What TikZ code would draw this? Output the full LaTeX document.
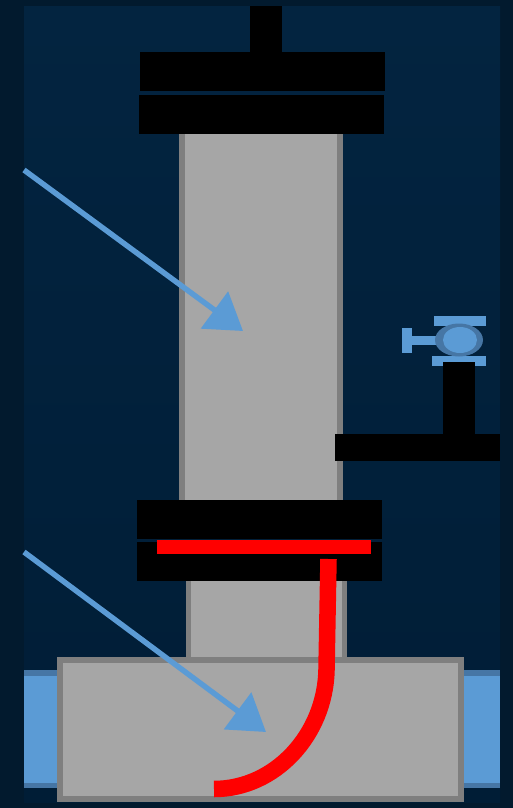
\documentclass[tikz,border=0pt]{standalone}
\usepackage{tikz}
\usetikzlibrary{
    arrows.meta
}
\definecolor{OuterDark}{RGB}{2,26,46}
\definecolor{PanelTop}{RGB}{3,36,64}
\definecolor{PanelBottom}{RGB}{0,29,54}
\definecolor{SteelGray}{RGB}{166,166,166}
\definecolor{SteelEdge}{RGB}{127,127,127}
\definecolor{PipeBlue}{RGB}{91,155,213}
\definecolor{PipeEdge}{RGB}{70,118,165}

\begin{document}
\begin{tikzpicture}[
    x=0.02cm,
    y=-0.02cm,
    steel/.style={fill=SteelGray, draw=SteelEdge, line width=3.4pt},
    plate/.style={fill=black},
    pointer/.style={
        draw=PipeBlue,
        line width=3.1pt,
        -{Triangle[length=20.2pt,width=25.6pt]}
    },
    seal/.style={draw=red, line width=9.4pt}
]

\useasboundingbox (0,0) rectangle (513,808);
\fill[OuterDark] (0,0) rectangle (513,808);
\shade[top color=PanelTop, bottom color=PanelBottom] (24,6) rectangle (500,802);

% inlet and outlet
\fill[PipeEdge] (24,670) rectangle (60,788);
\fill[PipeEdge] (460,670) rectangle (500,788);
\fill[PipeBlue] (24,676) rectangle (60,783);
\fill[PipeBlue] (460,676) rectangle (500,783);

% column and neck
\draw[steel] (182,130) rectangle (340,504);
\draw[steel] (188.5,578) rectangle (344.5,660);
\draw[steel] (60,660) rectangle (461,799);

% press plates
\fill[plate] (250,6) rectangle (282,52);
\fill[plate] (140,52) rectangle (385,91);
\fill[plate] (139,95) rectangle (384,134);
\fill[plate] (137,500) rectangle (382,539);
\fill[plate] (137,542) rectangle (382,581);

% valve
\fill[PipeBlue] (434,316) rectangle (486,326);
\fill[PipeBlue] (432,356) rectangle (486,366);
\fill[PipeBlue] (402,328) rectangle (412,353);
\fill[PipeBlue] (405,336) rectangle (440,345);
\fill[PipeEdge] (459,340) ellipse (24 and 16.5);
\fill[PipeBlue] (460,340) ellipse (17 and 13);

% side branch
\fill[plate] (443,362) rectangle (475,434);
\fill[plate] (335,434) rectangle (500,461);

% seal line
\fill[red] (157,540) rectangle (371,554);
\draw[seal] (328.5,559) -- (326.5,670) .. controls (325,735) and (275,789) .. (214,789);

% pointers
\coordinate (upperstart) at (24,170);
\coordinate (uppertip) at (243,331);
\coordinate (lowerstart) at (24,552);
\coordinate (lowertip) at (266,732);
\draw[pointer] (upperstart) -- (uppertip);
\draw[pointer] (lowerstart) -- (lowertip);

\end{tikzpicture}
\end{document}
